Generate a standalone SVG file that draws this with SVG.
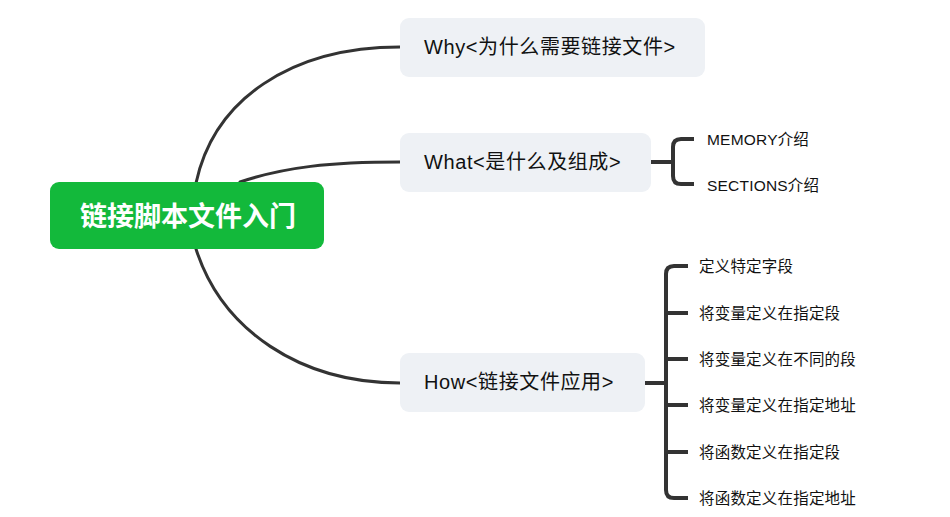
<svg xmlns="http://www.w3.org/2000/svg" width="950" height="517" viewBox="0 0 950 517">
<style>
.conn{fill:none;stroke:#333;stroke-width:3;stroke-linecap:round}
.br{fill:none;stroke:#333;stroke-width:4;stroke-linejoin:round}
.sub{fill:#eef1f5}
.t{font-family:"Liberation Sans","Noto Sans CJK SC",sans-serif;fill:#111}
.t2{font-size:20px;letter-spacing:0.6px}
.t3{font-size:15.5px;letter-spacing:0.2px}
</style>
<rect width="950" height="517" fill="#fff"/>
<g id="connectors">
<path class="conn" d="M196,183 C214,100 290,47 400,47"/>
<path class="conn" d="M240,182 C285,167 330,162 400,162"/>
<path class="conn" d="M196,249 C222,330 300,383 400,383"/>
<path class="br" d="M651,162 H673 M694,139 H681 Q673,139 673,147 V176 Q673,184 681,184 H694"/>
<path class="br" d="M645,383 H666 M688,266 H674 Q666,266 666,274 V490 Q666,498 674,498 H688 M666,313 H688 M666,359 H688 M666,405 H688 M666,452 H688"/>
</g>
<g id="root">
<rect x="50" y="182" width="274" height="67" rx="9" fill="#13b93b"/>
<text x="188" y="226" text-anchor="middle" font-family="'Noto Sans CJK SC',sans-serif" font-weight="bold" font-size="27" fill="#fff">链接脚本文件入门</text>
</g>
<g id="why">
<rect class="sub" x="400" y="18" width="305" height="59" rx="9"/>
<text class="t t2" x="424" y="54">Why&lt;为什么需要链接文件&gt;</text>
</g>
<g id="what">
<rect class="sub" x="400" y="133" width="251" height="59" rx="9"/>
<text class="t t2" x="424" y="169">What&lt;是什么及组成&gt;</text>
</g>
<g id="how">
<rect class="sub" x="400" y="353" width="245" height="59" rx="9"/>
<text class="t t2" x="424" y="389">How&lt;链接文件应用&gt;</text>
</g>
<g id="memory"><text class="t t3" x="707" y="145">MEMORY介绍</text></g>
<g id="sections"><text class="t t3" x="707" y="191">SECTIONS介绍</text></g>
<g id="h1"><text class="t t3" x="699" y="272">定义特定字段</text></g>
<g id="h2"><text class="t t3" x="699" y="319">将变量定义在指定段</text></g>
<g id="h3"><text class="t t3" x="699" y="365">将变量定义在不同的段</text></g>
<g id="h4"><text class="t t3" x="699" y="411">将变量定义在指定地址</text></g>
<g id="h5"><text class="t t3" x="699" y="458">将函数定义在指定段</text></g>
<g id="h6"><text class="t t3" x="699" y="504">将函数定义在指定地址</text></g>
</svg>
